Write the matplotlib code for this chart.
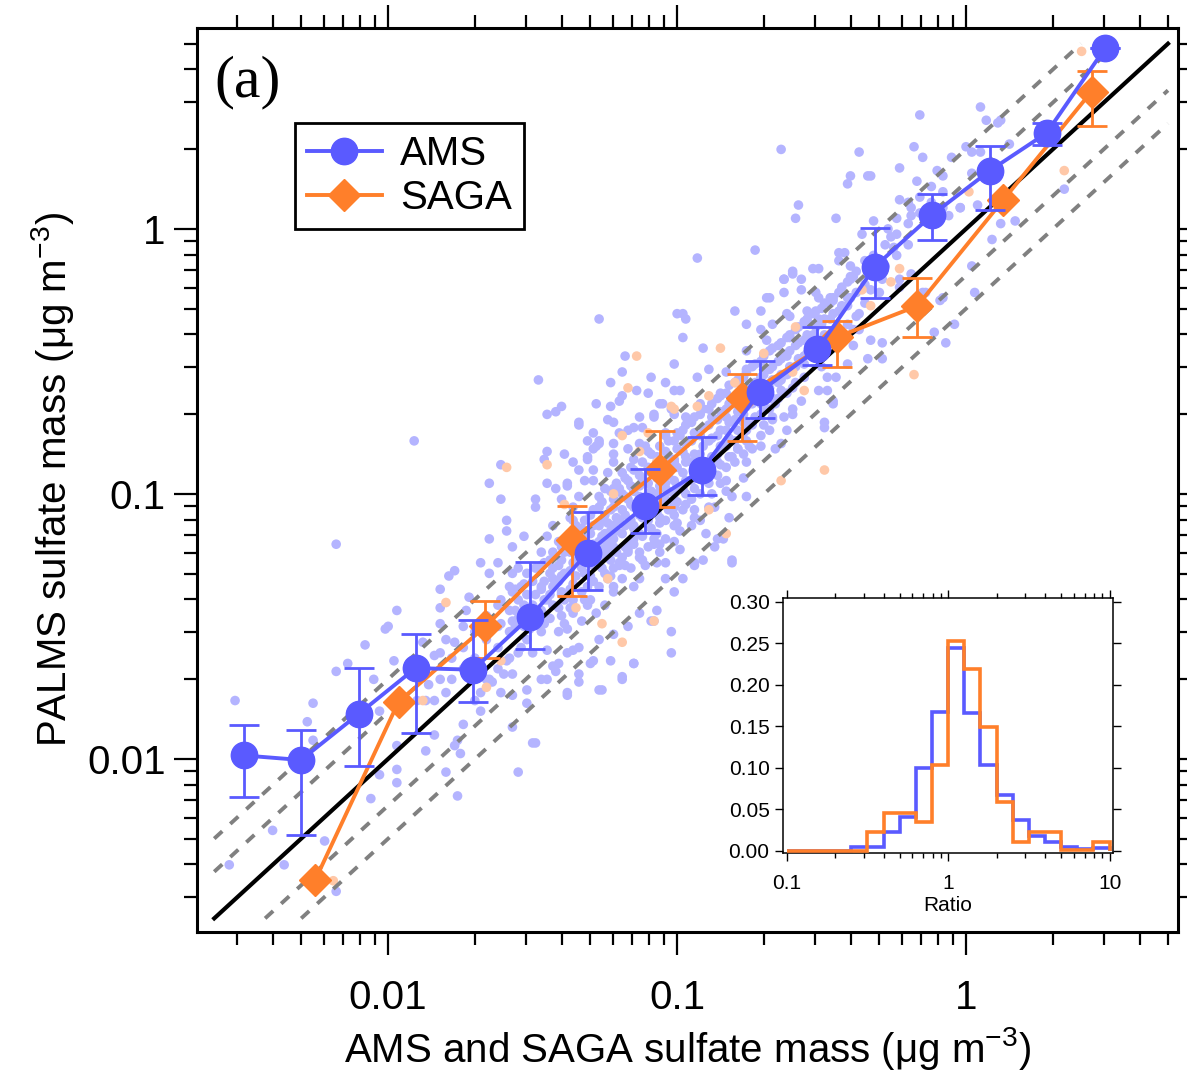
import numpy as np
import matplotlib
matplotlib.use('Agg')
import matplotlib.pyplot as plt
from matplotlib.lines import Line2D
from matplotlib.ticker import FixedLocator, LogLocator, FuncFormatter, NullFormatter, MultipleLocator

plt.rcParams['font.family'] = ['Liberation Sans', 'DejaVu Sans']
plt.rcParams['mathtext.fontset'] = 'custom'
plt.rcParams['mathtext.rm'] = 'Liberation Sans'
plt.rcParams['mathtext.it'] = 'Liberation Sans:italic'
plt.rcParams['mathtext.bf'] = 'Liberation Sans:bold'

BLUE = '#5a5aff'
ORANGE = '#ff7f2a'
LBLUE = '#b4b4ff'
LORANGE = '#ffc8a8'

# ---------------- data ----------------
# binned AMS comparison
ams_x = [0.00316, 0.00499, 0.00792, 0.01244, 0.0197, 0.031, 0.049, 0.0775,
         0.1218, 0.1936, 0.306, 0.484, 0.763, 1.21, 1.90, 3.03]
ams_y = [0.0103, 0.0099, 0.0148, 0.0220, 0.0217, 0.0344, 0.060, 0.090,
         0.123, 0.243, 0.351, 0.721, 1.129, 1.66, 2.30, 4.81]
ams_hi = [0.0134, 0.0128, 0.0221, 0.0296, 0.0333, 0.0555, 0.0857, 0.124,
          0.164, 0.318, 0.426, 1.006, 1.35, 2.06, 2.50, 4.81]
ams_lo = [0.00716, 0.00516, 0.0094, 0.01256, 0.0164, 0.0259, 0.0435, 0.0711,
          0.099, 0.193, 0.307, 0.548, 0.909, 1.18, 2.07, 4.81]

# binned SAGA comparison
saga_x = [0.00559, 0.01086, 0.0217, 0.0433, 0.0873, 0.1675, 0.357, 0.678, 1.346, 2.72]
saga_y = [0.00349, 0.0164, 0.0316, 0.067, 0.123, 0.2296, 0.39, 0.512, 1.287, 3.30]
saga_hi = [0.00349, 0.0164, 0.0394, 0.0903, 0.172, 0.284, 0.45, 0.652, 1.287, 3.96]
saga_lo = [0.00349, 0.0164, 0.024, 0.041, 0.0893, 0.159, 0.302, 0.392, 1.287, 2.45]

# individual points (log10 x, log10 y)
ams_points_log10 = [
    (-1.91,-0.80),(-1.61,-0.89),(-1.65,-0.96),(-1.61,-1.02),(-1.59,-1.10),(-1.59,-1.14),(-1.65,-1.17),(-1.68,-1.26),(-1.62,-1.26),(-1.79,-1.31),
    (-1.77,-1.29),(-1.82,-1.36),(-1.82,-1.43),(-1.97,-1.44),(-2.01,-1.51),(-1.88,-1.56),(-1.98,-1.63),(-1.84,-1.61),(-1.80,-1.55),(-1.73,-1.44),
    (-1.72,-1.39),(-1.65,-1.30),(-1.57,-1.20),(-1.53,-1.16),(-1.49,-1.02),(-1.45,-0.70),(-1.42,-0.69),(-1.40,-0.67),(-1.34,-0.73),(-1.34,-0.74),
    (-1.28,-0.66),(-1.23,-0.67),(-1.20,-0.65),(-1.45,-0.84),(-1.46,-0.87),(-1.45,-0.96),(-1.49,-1.05),(-1.40,-1.02),(-1.38,-0.97),(-1.34,-0.91),
    (-1.31,-0.87),(-1.29,-0.83),(-1.27,-0.80),(-1.29,-0.77),(-1.22,-0.73),(-1.20,-0.77),(-1.15,-0.75),(-1.13,-0.71),(-1.08,-0.70),(-1.05,-0.66),
    (-1.01,-0.70),(-1.01,-0.61),(-1.10,-0.62),(-1.22,-0.85),(-1.24,-0.92),(-1.29,-0.95),(-1.34,-1.01),(-1.36,-1.10),(-1.43,-1.12),(-1.45,-1.16),
    (-1.47,-1.27),(-1.43,-1.32),(-1.40,-1.37),(-1.45,-1.40),(-1.47,-1.35),(-1.54,-1.35),(-1.57,-1.37),(-1.61,-1.40),(-1.57,-1.30),(-1.51,-1.51),
    (-1.54,-1.58),(-1.59,-1.63),(-1.62,-1.66),(-1.57,-1.68),(-1.52,-1.74),(-1.47,-1.70),(-1.43,-1.65),(-1.38,-1.60),(-1.34,-1.58),(-1.38,-1.51),
    (-1.36,-1.45),(-1.31,-1.42),(-1.28,-1.45),(-1.22,-1.37),(-1.24,-1.32),(-1.20,-1.27),(-1.17,-1.22),(-1.15,-1.17),(-1.22,-1.17),(-1.24,-1.22),
    (-1.29,-1.27),(-1.31,-1.35),(-1.15,-1.35),(-1.11,-1.27),(-1.06,-1.22),(-1.04,-1.17),(-1.01,-1.12),(-1.08,-1.17),(-1.15,-1.12),(-1.20,-1.10),
    (-1.22,-1.05),(-1.17,-1.02),(-1.13,-0.97),(-1.17,-0.95),(-1.22,-0.98),(-1.15,-0.87),(-1.11,-0.82),(-1.04,-0.77),(-1.07,-0.88),(-1.04,-0.98),
    (-1.01,-1.05),(-1.04,-1.32),(-1.01,-1.37),(-1.02,-1.60),(-1.08,-1.48),(-1.13,-1.45),(-1.17,-1.50),(-1.22,-1.53),(-1.27,-1.55),(-1.29,-1.63),
    (-1.23,-1.63),(-1.15,-1.64),(-1.34,-1.68),(-1.38,-1.75),(-1.34,-1.71),(-1.27,-1.74),(-1.19,-1.69),(-1.65,-1.70),(-1.68,-1.75),(-1.61,-1.75),
    (-1.27,-0.34),(-0.93,-0.11),(-0.73,-0.08),(-0.98,-0.32),(-0.97,-0.34),(-0.98,-0.41),(-0.91,-0.45),(-1.01,-0.51),(-1.18,-0.48),(-1.19,-0.54),
    (-1.23,-0.58),(-1.09,-0.56),(-1.04,-0.58),(-1.24,-0.72),(-1.19,-0.63),(-1.14,-0.61),(-1.06,-0.66),(-0.99,-0.61),(-0.93,-0.56),(-0.89,-0.53),
    (-0.83,-0.54),(-0.80,-0.31),(-0.76,-0.36),(-0.71,-0.38),(-0.69,-0.26),(-0.71,-0.31),(-0.63,-0.19),(-0.60,-0.17),(-0.57,-0.23),(-0.53,-0.15),
    (-0.51,-0.26),(-0.44,-0.09),(-0.41,-0.26),(-0.37,-0.32),(-0.39,-0.44),(-0.33,-0.42),(-0.29,-0.49),(-0.45,-0.56),(-0.46,-0.66),(-0.49,-0.75),
    (-0.60,-0.68),(-0.62,-0.76),(-0.67,-0.71),(-0.76,-0.76),(-0.71,-0.82),(-0.64,-0.81),(-0.76,-0.88),(-0.81,-0.86),(-0.81,-1.01),(-0.85,-0.96),
    (-0.87,-1.05),(-0.92,-1.10),(-0.86,-1.17),(-0.81,-1.25),(-0.94,-1.26),(-0.99,-1.21),(-1.04,-1.26),(-0.76,-1.01),(-0.86,-0.88),(-0.83,-0.71),
    (-0.66,-0.66),(-0.60,-0.60),(-0.56,-0.51),(-0.62,-0.48),(-0.69,-0.53),(-0.76,-0.53),(-0.76,-0.46),(-0.69,-0.42),(-0.61,-0.41),(-0.54,-0.36),
    (-0.62,-0.32),(-0.67,-0.36),(-0.78,-0.66),(-0.85,-0.63),(-0.92,-0.66),(-0.97,-0.71),(-1.02,-0.68),(-1.08,-0.71),(-1.12,-0.75),(-1.17,-0.76),
    (-1.13,-0.81),(-1.17,-0.83),(-1.22,-0.81),(-1.27,-0.81),(-1.31,-0.86),(-1.36,-0.88),(-1.38,-0.96),(-1.29,-0.91),(-1.22,-0.88),(-0.99,-0.78),
    (-0.97,-0.86),(-1.01,-0.88),(-1.04,-0.96),(-1.01,-1.04),(-0.97,-1.04),(-1.06,-1.11),(-0.99,-1.14),(-1.08,-1.19),(-1.13,-1.24),(-1.17,-1.21),
    (-1.20,-1.26),(-1.24,-1.11),(-1.20,-0.98),(-1.27,-1.01),(-1.37,-1.09),(-1.24,-1.19),(-1.31,-1.14),(-0.71,-0.66),(-0.69,-0.61),(-0.64,-0.57),
    (-0.48,-0.61),(-0.37,-0.38),(-0.31,-0.18),(-0.33,-0.23),(-0.40,-0.14),
    (-0.16,0.43),(-0.37,0.29),(-0.64,0.30),(-0.18,0.31),(-0.15,0.27),(-0.23,0.23),(-0.40,0.20),(-0.41,0.17),(-0.34,0.20),(-0.33,0.20),
    (-0.58,0.09),(-0.59,0.04),(-0.45,0.04),(-0.10,0.22),(-0.08,0.20),(-0.05,0.27),(0.00,0.31),(0.02,0.29),(-0.17,0.18),(-0.23,0.11),
    (-0.19,0.08),(-0.19,0.05),(-0.06,0.05),(-0.02,0.08),(-0.32,0.03),(-0.27,0.00),(-0.26,-0.03),(-0.36,-0.02),(-0.25,-0.07),(-0.42,-0.09),
    (-0.44,-0.12),(-0.51,-0.15),(-0.60,-0.16),(-0.63,-0.19),(-0.57,-0.19),(-0.40,-0.18),(-0.52,-0.24),(-0.47,-0.26),(-0.23,-0.19),(-0.19,-0.17),
    (0.02,-0.14),(-0.15,-0.24),(-0.08,-0.26),(0.03,-0.24),
    (0.05,0.46),(0.07,0.41),(0.12,0.41),(0.11,0.40),(0.05,0.29),(0.15,0.32),(0.02,0.21),(-0.02,0.08),(0.04,0.09),(0.34,0.15),
    (0.17,0.03),(0.12,0.02),(0.09,-0.04),
    (-0.68,-0.26),(-0.63,-0.24),(-0.39,-0.18),(-0.30,-0.24),(-0.29,-0.19),(-0.23,-0.22),(-0.46,-0.27),(-0.55,-0.31),(-0.61,-0.33),(-0.51,-0.34),
    (-0.39,-0.38),(-0.29,-0.43),(-0.34,-0.49),(-0.41,-0.51),(-0.48,-0.56),(-0.46,-0.65),(-0.49,-0.73),(-0.57,-0.65),(-0.60,-0.70),(-0.63,-0.71),
    (-0.67,-0.72),(-0.11,-0.39),(-0.07,-0.43),(-0.04,-0.36),(-0.09,-0.27),(-0.14,-0.24),(-0.51,-0.61),(-0.66,-0.83),(-0.75,-0.82),(-0.82,-1.09),
    (-0.84,-1.17),(-0.81,-1.26),(-0.91,-1.25),(-0.94,-1.27),(-0.98,-1.32),(-0.87,-1.20),(-0.90,-1.15),(-0.94,-1.09),(-0.83,-0.95),(-0.79,-0.83),
    (-0.77,-0.73),
    (-1.48,-0.57),(-2.18,-1.19),(-1.00,-0.32),(-1.39,-0.85),(-1.31,-0.80),(-1.28,-0.82),(-1.42,-0.98),(-1.32,-0.95),
    (-2.53,-1.78),(-2.55,-2.40),(-2.36,-2.40),(-2.40,-2.27),(-2.22,-2.31),(-2.18,-2.50),(-2.26,-1.79),(-2.28,-1.86),(-2.26,-1.93),(-2.18,-1.67),
    (-2.14,-1.64),(-2.08,-1.57),(-2.00,-1.50),(-2.05,-1.70),(-2.03,-1.82),(-1.97,-1.95),(-2.03,-2.06),(-1.97,-2.04),(-1.97,-2.09),(-2.06,-2.15),
    (-1.87,-1.97),(-1.84,-1.91),(-1.87,-1.78),(-1.84,-1.78),(-1.82,-1.49),(-1.77,-1.56),(-1.74,-1.50),(-1.80,-1.75),(-1.76,-1.93),(-1.77,-1.95),
    (-1.75,-1.98),(-1.80,-2.05),(-1.76,-2.14),(-1.74,-1.87),(-1.68,-1.82),(-1.64,-1.71),(-1.57,-1.76),(-1.57,-1.88),(-1.55,-2.05),(-1.50,-1.94),
    (-1.49,-1.94),(-1.52,-1.79),(-1.45,-1.70),(-1.42,-1.67),(-1.38,-1.76),(-1.26,-1.74),(-1.19,-1.70),(-1.15,-1.64),(-1.30,-1.64),(-1.41,-1.64),
    (-1.36,-1.59),(-1.45,-1.59),(-1.09,-1.48),(-1.02,-1.52),(-1.07,-1.44),(-1.60,-1.68),(-1.55,-1.60),(-1.61,-1.49),(-1.57,-1.48),
]

# dense core of the AMS cloud near the 1:1 line (log10 x, log10 y)
ams_core_points_log10 = [
    (-1.90,-1.78),(-1.90,-1.66),(-1.86,-1.72),(-1.82,-1.70),(-1.82,-1.60),(-1.78,-1.62),(-1.78,-1.70),(-1.74,-1.66),(-1.74,-1.58),
    (-1.70,-1.62),(-1.70,-1.52),(-1.70,-1.78),(-1.66,-1.55),(-1.66,-1.46),(-1.66,-1.70),(-1.62,-1.50),(-1.62,-1.58),(-1.62,-1.42),
    (-1.58,-1.44),(-1.58,-1.52),(-1.58,-1.62),(-1.58,-1.35),(-1.55,-1.47),(-1.55,-1.40),(-1.55,-1.28),(-1.52,-1.38),(-1.52,-1.46),
    (-1.52,-1.55),(-1.52,-1.30),(-1.50,-1.33),(-1.50,-1.42),(-1.50,-1.60),(-1.47,-1.36),(-1.47,-1.44),(-1.47,-1.22),(-1.47,-1.52),
    (-1.44,-1.30),(-1.44,-1.38),(-1.44,-1.47),(-1.44,-1.25),(-1.41,-1.27),(-1.41,-1.33),(-1.41,-1.43),(-1.41,-1.18),(-1.41,-1.52),
    (-1.39,-1.22),(-1.39,-1.30),(-1.39,-1.40),(-1.39,-1.49),(-1.36,-1.18),(-1.36,-1.26),(-1.36,-1.34),(-1.36,-1.40),(-1.36,-1.05),
    (-1.33,-1.20),(-1.33,-1.28),(-1.33,-1.37),(-1.33,-1.13),(-1.33,-1.48),(-1.30,-1.15),(-1.30,-1.22),(-1.30,-1.31),(-1.30,-1.08),
    (-1.30,-1.40),(-1.27,-1.12),(-1.27,-1.18),(-1.27,-1.26),(-1.27,-1.35),(-1.27,-1.05),(-1.25,-1.08),(-1.25,-1.15),(-1.25,-1.24),
    (-1.25,-1.30),(-1.25,-0.98),(-1.25,-1.42),(-1.22,-1.02),(-1.22,-1.12),(-1.22,-1.20),(-1.22,-1.28),(-1.22,-1.35),(-1.19,-1.00),
    (-1.19,-1.06),(-1.19,-1.15),(-1.19,-1.24),(-1.19,-1.32),(-1.19,-0.92),(-1.16,-0.97),(-1.16,-1.04),(-1.16,-1.10),(-1.16,-1.18),
    (-1.16,-1.28),(-1.16,-0.90),(-1.13,-0.93),(-1.13,-1.01),(-1.13,-1.08),(-1.13,-1.15),(-1.13,-1.22),(-1.13,-1.32),(-1.10,-0.90),
    (-1.10,-0.96),(-1.10,-1.04),(-1.10,-1.10),(-1.10,-1.20),(-1.10,-0.84),(-1.07,-0.86),(-1.07,-0.94),(-1.07,-1.00),(-1.07,-1.07),
    (-1.07,-1.15),(-1.07,-1.26),(-1.04,-0.84),(-1.04,-0.90),(-1.04,-1.02),(-1.04,-1.10),(-1.04,-0.78),(-1.01,-0.80),(-1.01,-0.87),
    (-1.01,-0.95),(-1.01,-1.00),(-1.01,-1.08),(-1.01,-1.18),(-0.98,-0.76),(-0.98,-0.84),(-0.98,-0.92),(-0.98,-0.98),(-0.98,-1.06),
    (-0.95,-0.73),(-0.95,-0.80),(-0.95,-0.88),(-0.95,-0.95),(-0.95,-1.02),(-0.95,-1.12),(-0.92,-0.70),(-0.92,-0.78),(-0.92,-0.85),
    (-0.92,-0.92),(-0.92,-1.00),(-0.89,-0.68),(-0.89,-0.74),(-0.89,-0.80),(-0.89,-0.88),(-0.89,-0.96),(-0.89,-1.05),(-0.86,-0.64),
    (-0.86,-0.72),(-0.86,-0.78),(-0.86,-0.85),(-0.86,-0.93),(-0.83,-0.62),(-0.83,-0.68),(-0.83,-0.76),(-0.83,-0.82),(-0.83,-0.90),
    (-0.83,-0.99),(-0.80,-0.58),(-0.80,-0.66),(-0.80,-0.72),(-0.80,-0.80),(-0.80,-0.88),(-0.77,-0.56),(-0.77,-0.62),(-0.77,-0.70),
    (-0.77,-0.77),(-0.77,-0.85),(-0.77,-0.94),(-0.74,-0.52),(-0.74,-0.60),(-0.74,-0.66),(-0.74,-0.74),(-0.74,-0.83),(-0.71,-0.50),
    (-0.71,-0.56),(-0.71,-0.63),(-0.71,-0.70),(-0.71,-0.78),(-0.68,-0.46),(-0.68,-0.53),(-0.68,-0.60),(-0.68,-0.68),(-0.68,-0.76),
    (-0.65,-0.44),(-0.65,-0.50),(-0.65,-0.58),(-0.65,-0.64),(-0.62,-0.41),(-0.62,-0.47),(-0.62,-0.55),(-0.62,-0.62),(-0.59,-0.38),
    (-0.59,-0.44),(-0.59,-0.52),(-0.59,-0.58),(-0.56,-0.35),(-0.56,-0.42),(-0.56,-0.48),(-0.56,-0.56),(-0.53,-0.32),(-0.53,-0.40),
    (-0.53,-0.46),(-0.50,-0.30),(-0.50,-0.36),(-0.50,-0.44),(-0.50,-0.52),(-0.47,-0.28),(-0.47,-0.34),(-0.47,-0.42),(-0.44,-0.24),
    (-0.44,-0.31),(-0.44,-0.38),(-0.41,-0.20),(-0.41,-0.29),(-0.41,-0.36),(-0.38,-0.16),(-0.38,-0.24),(-0.38,-0.33),(-0.35,-0.12),
    (-0.35,-0.21),(-0.35,-0.28),(-0.32,-0.10),(-0.32,-0.17),(-0.28,-0.06),(-0.28,-0.14),(-0.24,-0.02),(-0.24,-0.10),(-0.24,0.04),
    (-0.20,0.02),(-0.20,-0.06),(-0.20,0.10),(-0.16,0.06),(-0.16,0.12),(-0.12,0.10),(-0.12,0.16),(-0.08,0.14),(-0.08,0.08),
]

# more of the dense core (log10 x, log10 y)
ams_core2_points_log10 = [
    (-1.56,-1.36),(-1.56,-1.50),(-1.56,-1.44),(-1.53,-1.34),(-1.53,-1.42),(-1.53,-1.50),(-1.49,-1.28),(-1.49,-1.38),(-1.49,-1.46),
    (-1.46,-1.26),(-1.46,-1.33),(-1.46,-1.40),(-1.46,-1.49),(-1.43,-1.22),(-1.43,-1.28),(-1.43,-1.35),(-1.43,-1.42),
    (-1.40,-1.20),(-1.40,-1.25),(-1.40,-1.31),(-1.40,-1.38),(-1.40,-1.46),(-1.37,-1.15),(-1.37,-1.22),(-1.37,-1.29),(-1.37,-1.36),
    (-1.37,-1.43),(-1.35,-1.12),(-1.35,-1.19),(-1.35,-1.24),(-1.35,-1.31),(-1.32,-1.10),(-1.32,-1.16),(-1.32,-1.23),(-1.32,-1.30),
    (-1.32,-1.40),(-1.29,-1.06),(-1.29,-1.12),(-1.29,-1.19),(-1.29,-1.25),(-1.29,-1.33),(-1.26,-1.03),(-1.26,-1.10),(-1.26,-1.16),
    (-1.26,-1.21),(-1.26,-1.28),(-1.23,-0.99),(-1.23,-1.06),(-1.23,-1.14),(-1.23,-1.17),(-1.23,-1.25),(-1.23,-1.31),
    (-1.21,-0.96),(-1.21,-1.03),(-1.21,-1.09),(-1.21,-1.14),(-1.21,-1.22),(-1.18,-0.94),(-1.18,-1.01),(-1.18,-1.08),(-1.18,-1.12),
    (-1.18,-1.20),(-1.18,-1.27),(-1.15,-0.91),(-1.15,-0.99),(-1.15,-1.05),(-1.15,-1.13),(-1.15,-1.19),(-1.12,-0.88),(-1.12,-0.95),
    (-1.12,-1.03),(-1.12,-1.09),(-1.12,-1.16),(-1.12,-1.25),(-1.09,-0.85),(-1.09,-0.92),(-1.09,-0.99),(-1.09,-1.06),(-1.09,-1.13),
    (-1.06,-0.82),(-1.06,-0.89),(-1.06,-0.97),(-1.06,-1.03),(-1.06,-1.09),(-1.06,-1.19),(-1.03,-0.80),(-1.03,-0.86),(-1.03,-0.93),
    (-1.03,-0.99),(-1.03,-1.06),(-1.00,-0.77),(-1.00,-0.83),(-1.00,-0.90),(-1.00,-0.97),(-1.00,-1.03),(-1.00,-1.11),
    (-0.97,-0.74),(-0.97,-0.81),(-0.97,-0.88),(-0.97,-0.95),(-0.97,-1.00),(-0.94,-0.71),(-0.94,-0.77),(-0.94,-0.85),(-0.94,-0.91),
    (-0.94,-0.98),(-0.94,-1.06),(-0.91,-0.68),(-0.91,-0.75),(-0.91,-0.82),(-0.91,-0.89),(-0.91,-0.95),(-0.88,-0.66),(-0.88,-0.71),
    (-0.88,-0.79),(-0.88,-0.86),(-0.88,-0.92),(-0.88,-1.00),(-0.85,-0.62),(-0.85,-0.69),(-0.85,-0.76),(-0.85,-0.82),(-0.85,-0.89),
    (-0.82,-0.59),(-0.82,-0.66),(-0.82,-0.73),(-0.82,-0.79),(-0.82,-0.86),(-0.79,-0.57),(-0.79,-0.63),(-0.79,-0.69),(-0.79,-0.76),
    (-0.79,-0.83),(-0.76,-0.54),(-0.76,-0.60),(-0.76,-0.67),(-0.76,-0.73),(-0.76,-0.80),(-0.73,-0.51),(-0.73,-0.58),(-0.73,-0.64),
    (-0.73,-0.71),(-0.70,-0.48),(-0.70,-0.55),(-0.70,-0.61),(-0.70,-0.67),(-0.70,-0.74),(-0.67,-0.45),(-0.67,-0.52),(-0.67,-0.57),
    (-0.67,-0.64),(-0.64,-0.43),(-0.64,-0.49),(-0.64,-0.55),(-0.64,-0.61),(-0.61,-0.40),(-0.61,-0.46),(-0.61,-0.52),
    (-0.58,-0.37),(-0.58,-0.43),(-0.58,-0.49),(-0.55,-0.34),(-0.55,-0.40),(-0.55,-0.47),(-0.52,-0.31),(-0.52,-0.37),(-0.52,-0.43),
    (-0.49,-0.28),(-0.49,-0.34),(-0.49,-0.40),(-0.46,-0.26),(-0.46,-0.32),(-0.43,-0.22),(-0.43,-0.29),(-0.40,-0.19),(-0.40,-0.26),
]

saga_points_log10 = [
    (0.40,0.67),(0.34,0.22),(0.01,0.14),(-0.85,-0.45),(-0.23,-0.15),(-0.26,-0.20),(-0.59,-0.37),(-0.56,-0.61),(-0.64,-0.95),(-0.49,-0.91),
    (-0.18,-0.55),(-0.83,-1.15),(-0.93,-0.67),(-0.89,-0.63),(-1.14,-0.48),(-1.17,-0.60),(-1.45,-0.89),(-1.59,-0.90),(-1.19,-0.78),(-1.13,-0.84),
    (-1.22,-1.00),(-1.01,-0.68),(-2.19,-2.46),(-1.88,-1.78),(-1.61,-1.63),(-1.66,-1.73),(-1.26,-1.49),(-1.19,-1.56),(-1.08,-1.48),(-1.35,-1.43),
    (-1.80,-1.41),(-1.02,-0.67),(-0.80,-0.58),(-0.70,-0.47),(-0.60,-0.54),(-0.36,-0.23),(-0.33,-0.29),(-1.07,-0.88),(-0.89,-1.06),(-1.39,-1.04),
    (-1.10,-0.77),(-1.24,-1.32),
]

ref_factors = [2.0, 1.5, 1 / 1.5, 0.5]
ref_range = (0.0025, 5.0)

# histogram of ratios
hist_edges = [0.1, 0.251, 0.316, 0.398, 0.501, 0.631, 0.794, 1.0, 1.259, 1.585,
              1.995, 2.512, 3.162, 3.981, 5.012, 6.310, 7.943, 10.0]
hist_ams = [0.0, 0.005, 0.005, 0.0225, 0.0413, 0.1003, 0.1668, 0.2447, 0.1664,
            0.1035, 0.0674, 0.0373, 0.018, 0.0112, 0.005, 0.002, 0.004]
hist_saga = [0.0, 0.0, 0.0233, 0.0461, 0.046, 0.0353, 0.1035, 0.253, 0.219,
             0.1496, 0.0594, 0.0112, 0.0233, 0.0233, 0.001, 0.001, 0.0112]

# ---------------- figure ----------------
fig = plt.figure(figsize=(11.87, 10.77), dpi=100)
ax = fig.add_axes([0.166, 0.1346, 0.8265, 0.8394])
ax.set_xscale('log')
ax.set_yscale('log')
ax.set_xlim(0.00218, 5.42)
ax.set_ylim(0.00222, 5.73)

ap = np.array(ams_points_log10 + ams_core_points_log10 + ams_core2_points_log10)
sp = np.array(saga_points_log10)
ax.scatter(10 ** ap[:, 0], 10 ** ap[:, 1], s=48, color=LBLUE, edgecolors='none', zorder=1)
ax.scatter(10 ** sp[:, 0], 10 ** sp[:, 1], s=48, color=LORANGE, edgecolors='none', zorder=1.5)

lo_r, hi_r = ref_range
for k in ref_factors:
    if k > 1:
        xs = [lo_r, hi_r / k]
    else:
        xs = [lo_r / k, hi_r]
    ax.plot(xs, [k * v for v in xs], color='#808080', lw=2.8, dashes=(2.8, 2.8), zorder=2)
ax.plot([lo_r, hi_r], [lo_r, hi_r], color='black', lw=3.0, zorder=3)

# SAGA
s_y = np.array(saga_y)
ax.errorbar(saga_x, saga_y, yerr=[s_y - np.array(saga_lo), np.array(saga_hi) - s_y], fmt='none',
            ecolor=ORANGE, elinewidth=2.0, capsize=10.5, capthick=2.0, zorder=4)
ax.plot(saga_x, saga_y, '-', color=ORANGE, lw=2.8, marker='D', ms=16.5, mec=ORANGE, mfc=ORANGE, zorder=4.5)

# AMS
a_y = np.array(ams_y)
ax.errorbar(ams_x, ams_y, yerr=[a_y - np.array(ams_lo), np.array(ams_hi) - a_y], fmt='none',
            ecolor=BLUE, elinewidth=2.0, capsize=10.5, capthick=2.0, zorder=5)
ax.plot(ams_x, ams_y, '-', color=BLUE, lw=2.8, marker='o', ms=19, mec=BLUE, mfc=BLUE, zorder=5.5)

# ticks
fmt = FuncFormatter(lambda v, p: '%g' % v)
for axis in (ax.xaxis, ax.yaxis):
    axis.set_major_locator(FixedLocator([0.001, 0.01, 0.1, 1, 10]))
    axis.set_minor_locator(LogLocator(base=10, subs=np.arange(2, 10), numticks=50))
    axis.set_major_formatter(fmt)
    axis.set_minor_formatter(NullFormatter())
ax.tick_params(which='both', direction='out', top=True, right=True, width=1.6, labelsize=29)
ax.tick_params(which='major', length=16.5)
ax.tick_params(which='minor', length=9.5)
ax.tick_params(axis='x', which='major', pad=17)
ax.tick_params(axis='y', which='major', pad=6)
for sp_ in ax.spines.values():
    sp_.set_linewidth(2.2)

ax.set_xlabel('AMS and SAGA sulfate mass (\u03bcg m$^{-3}$)', fontsize=29, labelpad=6)
ax.set_ylabel('PALMS sulfate mass (\u03bcg m$^{-3}$)', fontsize=29, labelpad=8)

ax.text(0.018, 0.940, '(a)', transform=ax.transAxes, fontsize=43,
        family=['Liberation Serif', 'DejaVu Serif'], ha='left', va='center')

handles = [Line2D([], [], color=BLUE, lw=2.8, marker='o', ms=19),
           Line2D([], [], color=ORANGE, lw=2.8, marker='D', ms=16.5)]
leg = ax.legend(handles, ['AMS', 'SAGA'], loc='upper left', bbox_to_anchor=(0.0999, 0.895),
                borderaxespad=0, fontsize=29, fancybox=False, frameon=True, handlelength=1.85,
                handletextpad=0.45, borderpad=0.3, labelspacing=0.15)
leg.get_frame().set_edgecolor('black')
leg.get_frame().set_linewidth(2.0)
leg.get_frame().set_alpha(1)

# ---------------- inset ----------------
ins = fig.add_axes([0.6594, 0.2077, 0.2783, 0.2368])
ins.set_xscale('log')
ins.set_xlim(0.0944, 10.5)
ins.set_ylim(-0.0028, 0.3041)
ins.stairs(hist_ams, hist_edges, baseline=0, color=BLUE, lw=2.6, zorder=2)
ins.stairs(hist_saga, hist_edges, baseline=0, color=ORANGE, lw=2.6, zorder=3)
ins.xaxis.set_major_locator(FixedLocator([0.1, 1, 10]))
ins.xaxis.set_minor_locator(LogLocator(base=10, subs=np.arange(2, 10), numticks=50))
ins.xaxis.set_major_formatter(fmt)
ins.xaxis.set_minor_formatter(NullFormatter())
ins.yaxis.set_major_locator(MultipleLocator(0.05))
ins.yaxis.set_major_formatter(FuncFormatter(lambda v, p: '%.2f' % abs(v)))
ins.tick_params(which='both', direction='out', top=True, right=True, width=1.0, labelsize=15)
ins.tick_params(which='major', length=6)
ins.tick_params(which='minor', length=3.5)
ins.tick_params(axis='x', which='major', pad=9)
for sp_ in ins.spines.values():
    sp_.set_linewidth(1.1)
ins.set_xlabel('Ratio', fontsize=15, labelpad=2)

fig.savefig('out.png', dpi=100)
